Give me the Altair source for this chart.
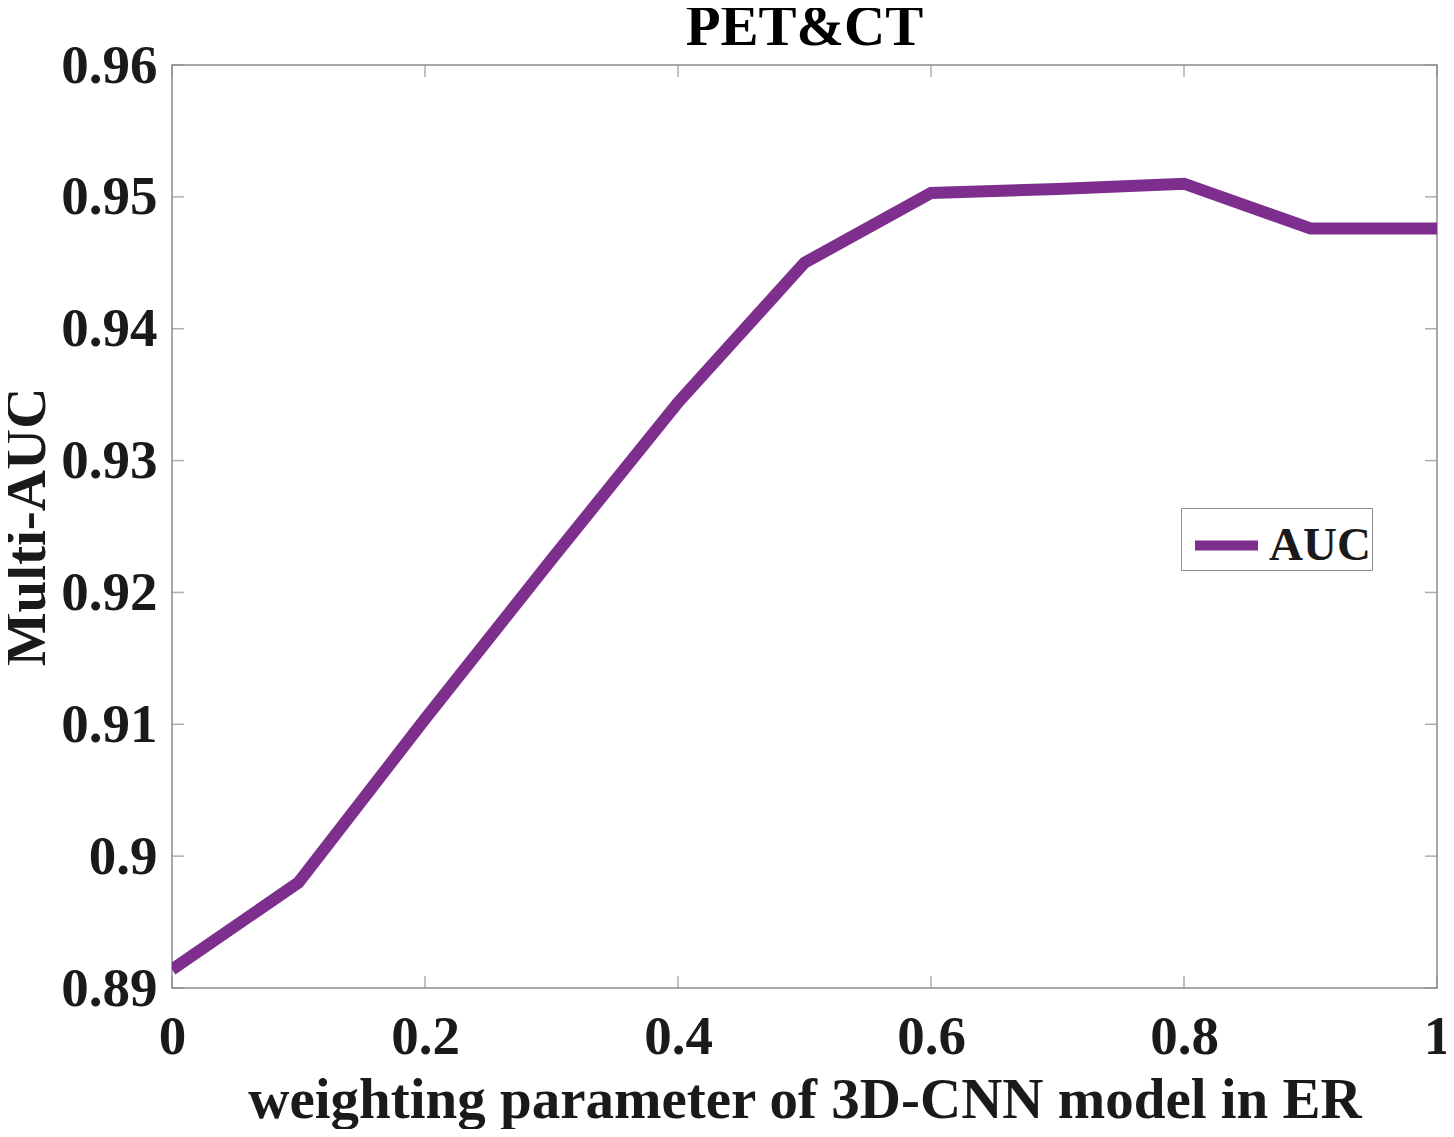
import altair as alt
import pandas as pd

weights = [0.0, 0.1, 0.2, 0.3, 0.4, 0.5, 0.6, 0.7, 0.8, 0.9, 1.0]
auc = [0.8914, 0.8980, 0.9104, 0.9225, 0.9344, 0.9450, 0.9503, 0.9506, 0.9510, 0.9476, 0.9476]
series = ["AUC"] * len(weights)
x_ticks = [0, 0.2, 0.4, 0.6, 0.8, 1.0]
y_ticks = [0.89, 0.90, 0.91, 0.92, 0.93, 0.94, 0.95, 0.96]

W, H = 1265, 923
FONT = "Liberation Serif"
PURPLE = "#7E2F8E"
GRAY = "#8c8c8c"
TXT = "#1a1a1a"

df = pd.DataFrame({"w": weights, "auc": auc, "series": series})
xt = pd.DataFrame({"v": x_ticks})
yt = pd.DataFrame({"v": y_ticks})

xscale = alt.Scale(domain=[0, 1], nice=False, zero=False)
yscale = alt.Scale(domain=[0.89, 0.96], nice=False, zero=False)

label_style = dict(labelFont=FONT, labelFontSize=55, labelFontWeight="bold", labelColor=TXT,
                   titleFont=FONT, titleFontSize=57, titleFontWeight="bold", titleColor=TXT,
                   grid=False, domain=False, ticks=False, labelFlush=False)

xaxis = alt.Axis(values=x_ticks, format="~g", title="weighting parameter of 3D-CNN model in ER",
                 titleX=W / 2, titleY=129, titleAlign="center", titleBaseline="alphabetic",
                 labelBaseline="alphabetic", labelPadding=65, **label_style)
yaxis = alt.Axis(values=y_ticks, format="~g", title="Multi-AUC",
                 titleX=-128, titleY=H / 2, titleAngle=-90, titleAlign="center",
                 titleBaseline="alphabetic", labelPadding=15, **label_style)

line = alt.Chart(df).mark_line(strokeWidth=12, strokeJoin="miter", clip=True).encode(
    x=alt.X("w:Q", scale=xscale, axis=xaxis),
    y=alt.Y("auc:Q", scale=yscale, axis=yaxis),
    color=alt.Color("series:N", scale=alt.Scale(range=[PURPLE]),
                    legend=alt.Legend(title=None, orient="none", legendX=1009, legendY=443,
                                      symbolType="stroke", symbolSize=3969, symbolStrokeWidth=10,
                                      labelFont=FONT, labelFontSize=47, labelFontWeight="bold",
                                      labelColor=TXT, strokeColor=GRAY, padding=1,
                                      fillColor="white", symbolOffset=8, labelOffset=6,
                                      labelExpr="datum.label + ' '", rowPadding=0)),
)

tick_style = dict(color=GRAY, thickness=1.5, size=12)
left = alt.Chart(yt).mark_tick(orient="horizontal", **tick_style).encode(
    y=alt.Y("v:Q", scale=yscale, axis=yaxis), x=alt.value(6))
right = alt.Chart(yt).mark_tick(orient="horizontal", **tick_style).encode(
    y=alt.Y("v:Q", scale=yscale, axis=yaxis), x=alt.value(W - 6))
bottom = alt.Chart(xt).mark_tick(orient="vertical", **tick_style).encode(
    x=alt.X("v:Q", scale=xscale, axis=xaxis), y=alt.value(H - 6))
top = alt.Chart(xt).mark_tick(orient="vertical", **tick_style).encode(
    x=alt.X("v:Q", scale=xscale, axis=xaxis), y=alt.value(6))

chart = alt.layer(line, left, right, bottom, top).properties(
    width=W, height=H,
    background="white",
    title=alt.TitleParams("PET&CT", font=FONT, fontSize=57, fontWeight="bold", color="black",
                          anchor="middle", offset=4, dy=23),
    autosize=alt.AutoSizeParams(type="none"),
    padding={"left": 164, "top": 57, "right": 9, "bottom": 141},
).configure_view(stroke=GRAY, strokeWidth=1.5)

chart.save("out.html", embed_options={"renderer": "svg", "actions": False})
